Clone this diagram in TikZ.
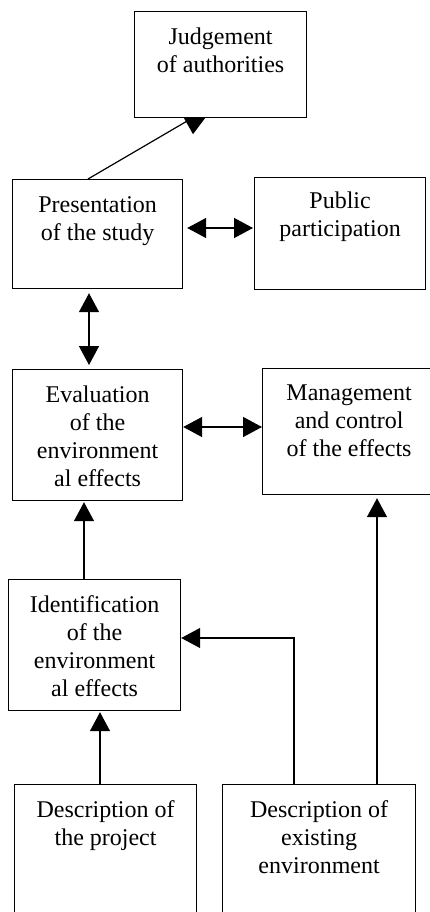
\documentclass[tikz,border=0pt]{standalone}
\usepackage{fontspec}
\setmainfont{Liberation Serif}
\usetikzlibrary{arrows.meta}
\begin{document}
\begin{tikzpicture}[x=1pt,y=-1pt,
  box/.style={draw, line width=1.2pt, inner sep=0pt, anchor=north west},
  txt/.style={inner sep=0pt, anchor=north, align=center, font=\fontsize{24}{28}\selectfont},
  conn/.style={line width=1.4pt},
  onearrow/.style={-{Triangle[length=19pt,width=20pt]}},
  twoarrow/.style={{Triangle[length=19pt,width=20pt]}-{Triangle[length=19pt,width=20pt]}}]
\clip (0,0) rectangle (430,912);
% boxes
\node[box, minimum width=172pt, minimum height=106pt] (judge) at (134,11) {};
\node[box, minimum width=170pt, minimum height=109pt] (pres) at (12,179) {};
\node[box, minimum width=171pt, minimum height=112pt] (pub) at (254,177) {};
\node[box, minimum width=170pt, minimum height=131pt] (eval) at (12,369) {};
\node[box, minimum width=173pt, minimum height=126pt] (mgmt) at (262,368) {};
\node[box, minimum width=172pt, minimum height=131pt] (ident) at (8,579) {};
\node[box, minimum width=182pt, minimum height=150pt] (dproj) at (14,784) {};
\node[box, minimum width=193pt, minimum height=150pt] (denv) at (222,784) {};
% texts
\node[txt] (tjudge) at ([yshift=-13.4pt]judge.north) {\strut Judgement\\of authorities};
\node[txt] (tpres) at ([yshift=-13.4pt]pres.north) {\strut Presentation\\of the study};
\node[txt] (tpub) at ([yshift=-11.9pt]pub.north) {\strut Public\\participation};
\node[txt] (teval) at ([yshift=-13.4pt]eval.north) {\strut Evaluation\\of the\\environment\\al effects};
\node[txt] (tmgmt) at ([yshift=-12.4pt]mgmt.north) {\strut Management\\and control\\of the effects};
\node[txt] (tident) at ([yshift=-13.4pt]ident.north) {\strut Identification\\of the\\environment\\al effects};
\node[txt] (tdproj) at ([yshift=-13.4pt]dproj.north) {\strut Description of\\the project};
\node[txt] (tdenv) at ([yshift=-13.4pt]denv.north) {\strut Description of\\existing\\environment};
% connectors
\draw[line width=1.2pt] ([xshift=76pt]pres.north west) -- ([xshift=58pt]judge.south west);
\fill ([xshift=50pt]judge.south west) -- ([xshift=71pt]judge.south west) -- ([xshift=59pt,yshift=-16pt]judge.south west) -- cycle;
\draw[conn,twoarrow] ([xshift=4pt,yshift=-49pt]pres.north east) -- ([xshift=-1pt,yshift=-51pt]pub.north west);
\draw[conn,twoarrow] ([xshift=77pt,yshift=-4pt]pres.south west) -- ([xshift=77pt,yshift=4pt]eval.north west);
\draw[conn,twoarrow] ([yshift=-58pt]eval.north east) -- ([yshift=-59pt]mgmt.north west);
\draw[conn,onearrow] ([xshift=76pt]ident.north west) -- ([xshift=72pt,yshift=-1pt]eval.south west);
\draw[conn,onearrow] ([xshift=86pt]dproj.north west) -- ([xshift=92pt,yshift=-1pt]ident.south west);
\draw[line width=1.2pt,onearrow] ([xshift=72pt]denv.north west) |- ([yshift=-59pt]ident.north east);
\draw[conn,onearrow] ([xshift=155pt]denv.north west) -- ([xshift=115pt,yshift=-3pt]mgmt.south west);
\end{tikzpicture}
\end{document}
